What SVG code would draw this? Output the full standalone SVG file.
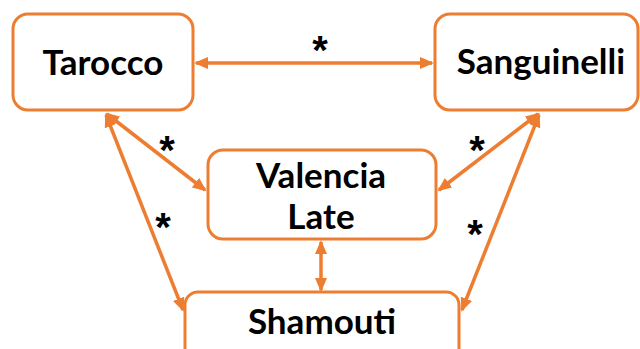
<svg xmlns="http://www.w3.org/2000/svg" width="640" height="349" viewBox="0 0 640 349">
  <style>
    .box { fill: #ffffff; stroke: #ED7D31; stroke-width: 3; }
    .lbl { font-family: Lato, "Open Sans", "Liberation Sans", sans-serif; font-weight: bold; font-size: 35px; fill: #000000; text-anchor: middle; }
    .mult { font-family: "Liberation Sans", Arial, sans-serif; font-weight: bold; font-size: 40px; fill: #000000; text-anchor: middle; }
    .edge { stroke: #ED7D31; stroke-width: 3.5; fill: none; marker-start: url(#head); marker-end: url(#head); }
  </style>
  <defs>
    <marker id="head" viewBox="0 0 14 12" refX="12" refY="6" markerWidth="14" markerHeight="12" markerUnits="userSpaceOnUse" orient="auto-start-reverse">
      <path d="M0,0 L14,6 L0,12 z" fill="#ED7D31"/>
    </marker>
  </defs>

  <g id="connectors">
    <line class="edge" x1="196" y1="63" x2="432" y2="63"/>
    <line class="edge" x1="107" y1="114" x2="205" y2="190"/>
    <line class="edge" x1="106" y1="115" x2="183" y2="310"/>
    <line class="edge" x1="538" y1="114" x2="439" y2="190"/>
    <line class="edge" x1="539" y1="115" x2="462" y2="310"/>
    <line class="edge" x1="321" y1="242" x2="321" y2="290"/>
    <text class="mult" x="320" y="64">*</text>
    <text class="mult" x="167" y="164">*</text>
    <text class="mult" x="477" y="164">*</text>
    <text class="mult" x="163" y="241">*</text>
    <text class="mult" x="475" y="248">*</text>
  </g>

  <g id="tarocco">
    <rect class="box" x="13" y="14" width="180" height="96" rx="15"/>
    <text class="lbl" x="103" y="75">Tarocco</text>
  </g>

  <g id="sanguinelli">
    <rect class="box" x="435" y="14" width="203" height="96" rx="15"/>
    <text class="lbl" x="541" y="74">Sanguinelli</text>
  </g>

  <g id="valencia-late">
    <rect class="box" x="208" y="150" width="228" height="89" rx="15"/>
    <text class="lbl" x="321" y="188">Valencia</text>
    <text class="lbl" x="321" y="229">Late</text>
  </g>

  <g id="shamouti">
    <rect class="box" x="185" y="292" width="274" height="90" rx="13"/>
    <text class="lbl" x="322" y="334">Shamouti</text>
  </g>
</svg>
